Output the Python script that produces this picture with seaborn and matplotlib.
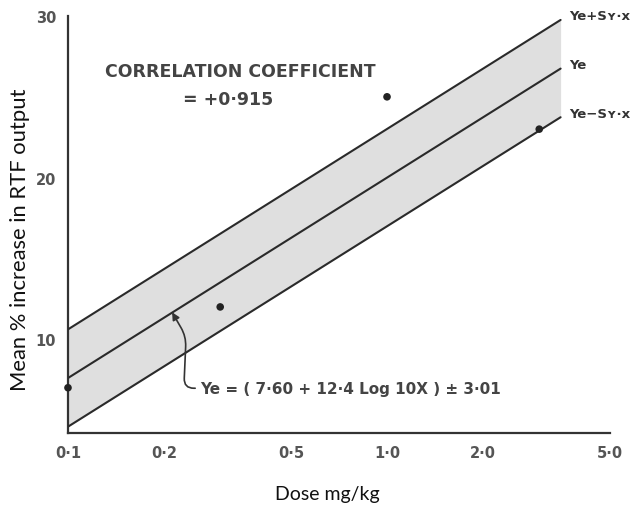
import numpy as np
import pandas as pd
import matplotlib
matplotlib.use("Agg")
import matplotlib.pyplot as plt
import seaborn as sns

# Data
doses = [0.1, 0.3, 1.0, 3.0]
responses = [7.0, 12.0, 25.0, 23.0]
intercept = 7.60
slope = 12.4
sy_x = 3.01
line_x = [0.1, 3.5]
x_ticks = [0.1, 0.2, 0.5, 1.0, 2.0, 5.0]
x_tick_labels = ["0·1", "0·2", "0·5", "1·0", "2·0", "5·0"]
y_ticks = [10, 20, 30]
y_tick_labels = ["10", "20", "30"]

sns.set_theme(style="white")
plt.rcParams['font.family'] = ['DejaVu Sans']

fig = plt.figure(figsize=(6.33, 5.06), dpi=100)
ax = fig.add_axes([0.1074, 0.1423, 0.8563, 0.8241])

lx = np.array(line_x)
ye = intercept + slope * np.log10(10 * lx)
lines = pd.DataFrame({
    "x": np.concatenate([lx, lx, lx]),
    "y": np.concatenate([ye + sy_x, ye, ye - sy_x]),
    "which": ["upper"] * 2 + ["mid"] * 2 + ["lower"] * 2,
})

ax.fill_between(lx, ye - sy_x, ye + sy_x, color="#dfdfdf", lw=0, zorder=1)
sns.lineplot(data=lines, x="x", y="y", units="which", estimator=None,
             color="#2a2a2a", lw=1.5, ax=ax, zorder=3, legend=False)

pts = pd.DataFrame({"dose": doses, "resp": responses})
sns.scatterplot(data=pts, x="dose", y="resp", color="#222222", s=30,
                edgecolor="none", ax=ax, zorder=4, clip_on=False)

ax.set_xscale("log")
ax.set_xlim(0.1, 5.0)
ax.set_ylim(4.2, 30)
ax.set_xticks(x_ticks)
ax.set_xticklabels(x_tick_labels)
ax.minorticks_off()
ax.set_yticks(y_ticks)
ax.set_yticklabels(y_tick_labels)
ax.tick_params(axis="both", direction="inout", length=5, width=1.2,
               color="#333333", labelcolor="#555555", labelsize=10.5, pad=6)
for lab in ax.get_xticklabels() + ax.get_yticklabels():
    lab.set_fontweight("bold")

for s in ["top", "right"]:
    ax.spines[s].set_visible(False)
for s in ["left", "bottom"]:
    ax.spines[s].set_color("#333333")
    ax.spines[s].set_linewidth(1.6)

ax.set_xlabel("Dose mg/kg", family=["Lato", "DejaVu Sans"], fontsize=14,
              color="#111111")
ax.xaxis.set_label_coords(0.478, -0.146)
ax.xaxis.label.set_va("center")
ax.set_ylabel("Mean % increase in RTF output", family=["Lato", "DejaVu Sans"],
              fontsize=15.8, color="#111111")
ax.yaxis.set_label_coords(-0.088, 0.465)
ax.yaxis.label.set_va("center")

# right-hand labels
labels_right = ["Ye+Sʏ·x", "Ye", "Ye−Sʏ·x"]
ends = [ye[-1] + sy_x, ye[-1], ye[-1] - sy_x]
for lab, yv in zip(labels_right, ends):
    ax.annotate(lab, xy=(lx[-1], yv), xytext=(6, 3), textcoords="offset points",
                fontsize=9.5, color="#333333", fontweight="bold",
                ha="left", va="center", annotation_clip=False)

ax.text(0.348, 26.6, "CORRELATION COEFFICIENT", fontsize=12.5, fontweight="bold",
        color="#444444", ha="center", va="center")
ax.text(0.317, 24.86, "= +0·915", fontsize=12.5, fontweight="bold",
        color="#444444", ha="center", va="center")

ax.annotate("Ye = ( 7·60 + 12·4 Log 10X ) ± 3·01",
            xy=(0.212, 11.67), xytext=(0.259, 6.97),
            fontsize=11, fontweight="bold", color="#444444",
            ha="left", va="center",
            arrowprops=dict(arrowstyle="-|>", color="#333333", lw=1.2,
                            relpos=(0.0, 0.5),
                            connectionstyle="arc,angleA=180,angleB=-60,armA=16,armB=28,rad=10",
                            shrinkA=1, shrinkB=0))

fig.savefig("out.png", dpi=100)
